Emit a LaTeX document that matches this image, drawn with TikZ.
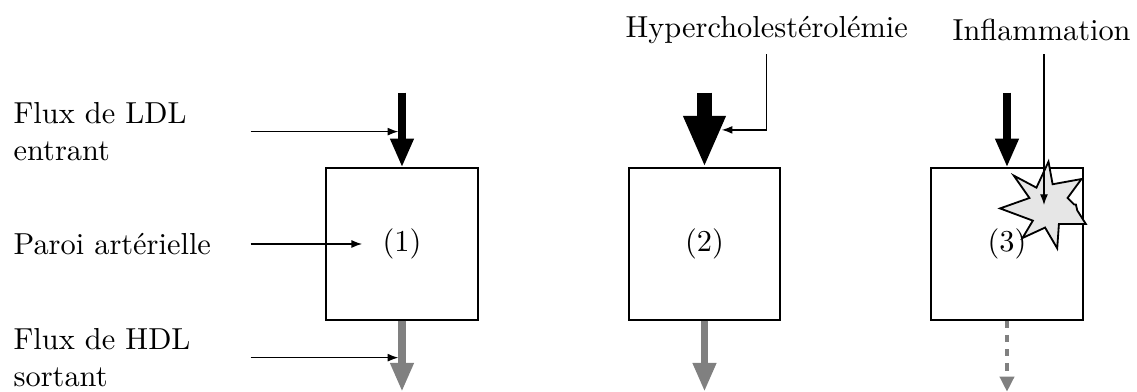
\documentclass[tikz,border=0pt]{standalone}
\usepackage{tikz}
\usetikzlibrary{arrows.meta,positioning,calc}
\definecolor{fluxgray}{RGB}{128,128,128}
\definecolor{burstgray}{RGB}{230,230,230}
\tikzset{
  paroi/.style={draw, semithick, minimum size=1.75cm, inner sep=0pt},
  fluxin/.style={line width=2.4pt, -{Triangle[length=9.5pt,width=7.2pt]}},
  fluxout/.style={fluxgray, line width=2.4pt, -{Triangle[length=9.5pt,width=7.2pt]}},
  pointer/.style={thin, -{Latex[length=3.5pt,width=2.6pt]}},
  legend/.style={align=left, anchor=west, inner sep=0pt}
}

\begin{document}
\begin{tikzpicture}
\useasboundingbox (-4.651,-1.712) rectangle (8.504,2.823);
% les trois parois
\node[paroi] (b1) at (0,0) {};
\node[paroi] (b2) at (3.5,0) {};
\node[paroi] (b3) at (7,0) {};
\node (p1) at (b1) {(1)};
\node (p2) at (b2) {(2)};
\node (p3) at (b3) {(3)};
% flux entrants
\coordinate (in1) at (0,1.75);
\coordinate (in2) at (3.5,1.75);
\coordinate (in3) at (7,1.75);
\draw[fluxin] (in1) -- (b1.north);
\draw[line width=4.9pt, -{Triangle[length=17pt,width=12.8pt]}] (in2) -- (b2.north);
\draw[fluxin] (in3) -- (b3.north);
% flux sortants
\coordinate (out1) at (0,-1.71);
\coordinate (out2) at (3.5,-1.71);
\coordinate (out3) at (7,-1.71);
\draw[fluxout] (b1.south) -- (out1);
\draw[fluxout] (b2.south) -- (out2);
\draw[fluxgray, line width=1.3pt, dash pattern=on 2.4pt off 2.3pt,
      -{Triangle[length=5pt,width=4.6pt]}] (b3.south) -- (out3);
% legendes
\node[legend] (ldl) at (-4.50,1.30) {Flux de LDL\\entrant};
\node[legend] (wall) at (-4.50,0) {Paroi art\'erielle};
\node[legend] (hdl) at (-4.50,-1.315) {Flux de HDL\\sortant};
\coordinate (ldlfrom) at (-1.75,1.30);
\coordinate (wallfrom) at (-1.75,0);
\coordinate (hdlfrom) at (-1.75,-1.315);
\draw[pointer, shorten >=1.2pt] (ldlfrom) -- (ldlfrom -| in1);
\draw[pointer, shorten >=3.2pt] (wallfrom) -- (p1.west);
\draw[pointer, shorten >=1.2pt] (hdlfrom) -- (hdlfrom -| out1);
% hypercholesterolemie
\node (hyper) at (4.22,2.48) {Hypercholest\'erol\'emie};
\coordinate (hyperto) at (3.70,1.32);
\draw[pointer] (hyper.south) |- (hyperto);
% inflammation
\node (infl) at (7.40,2.48) {Inflammation};
\coordinate (burst) at (7.428,0.451);
\begin{scope}[shift={(burst)}, scale=1.04]
\draw[semithick, fill=burstgray, line join=miter]
  (0.050,0.482) -- (0.096,0.231) -- (0.417,0.289) -- (0.262,0.078)
  -- (0.335,0.005) -- (0.355,0.005) -- (0.370,-0.060) -- (0.466,-0.212)
  -- (0.166,-0.212) -- (0.147,-0.482) -- (0.012,-0.251) -- (-0.239,-0.367)
  -- (-0.124,-0.174) -- (-0.489,-0.038) -- (-0.162,0.078) -- (-0.336,0.327)
  -- (-0.084,0.193) -- cycle;
\end{scope}
\draw[pointer, shorten <=1pt] (infl.south -| burst) -- (burst);
\end{tikzpicture}
\end{document}
